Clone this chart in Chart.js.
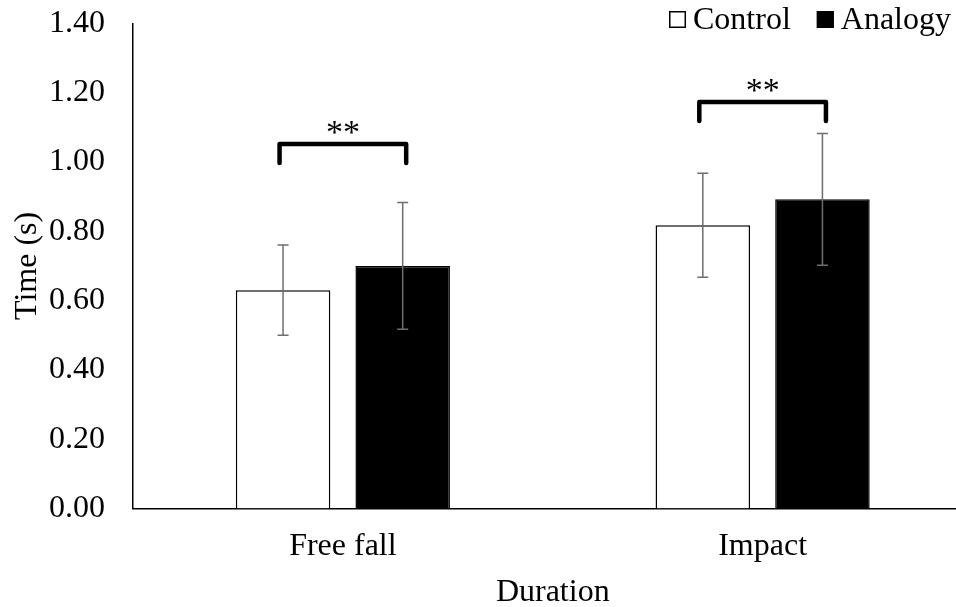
<!DOCTYPE html>
<html>
<head>
<meta charset="utf-8">
<script src="https://cdn.jsdelivr.net/npm/chart.js@4.4.1/dist/chart.umd.min.js"></script>
<style>
  html, body { margin: 0; padding: 0; background: #fff; overflow: hidden; }
  #wrap { width: 974px; height: 607px; }
</style>
</head>
<body>
<div id="wrap"><canvas id="chart"></canvas></div>
<script>
const categories = ['Free fall', 'Impact']
const seriesNames = ['Control', 'Analogy']
const controlMeans = [0.630, 0.817]
const analogyMeans = [0.700, 0.892]
const controlErrors = [0.130, 0.150]
const analogyErrors = [0.183, 0.190]
const yTicks = [0, 0.2, 0.4, 0.6, 0.8, 1.0, 1.2, 1.4]
const bracketTops = [1.052, 1.173]
const bracketDrops = [0.055, 0.055]
const bracketLabels = ['**', '**']

const serif = 'Liberation Serif'

// error bars drawn on top of each bar
const errorBars = {
  id: 'errorBars',
  afterDatasetsDraw(chart) {
    const ctx = chart.ctx
    const y = chart.scales.y
    ctx.save()
    ctx.strokeStyle = '#6e6e6e'
    ctx.lineWidth = 1.5
    chart.data.datasets.forEach((ds, i) => {
      chart.getDatasetMeta(i).data.forEach((bar, j) => {
        const top = y.getPixelForValue(ds.data[j] + ds.errors[j])
        const bot = y.getPixelForValue(ds.data[j] - ds.errors[j])
        ctx.beginPath()
        ctx.moveTo(bar.x, top); ctx.lineTo(bar.x, bot)
        ctx.moveTo(bar.x - 5.5, top); ctx.lineTo(bar.x + 5.5, top)
        ctx.moveTo(bar.x - 5.5, bot); ctx.lineTo(bar.x + 5.5, bot)
        ctx.stroke()
      })
    })
    ctx.restore()
  }
}

// significance brackets
const brackets = {
  id: 'brackets',
  afterDatasetsDraw(chart) {
    const ctx = chart.ctx
    const y = chart.scales.y
    const a = chart.getDatasetMeta(0).data
    const b = chart.getDatasetMeta(1).data
    ctx.save()
    bracketTops.forEach((t, j) => {
      const x1 = a[j].x - 3.5
      const x2 = b[j].x + 3.5
      const yt = y.getPixelForValue(t)
      const yl = y.getPixelForValue(t - bracketDrops[j])
      ctx.strokeStyle = '#000'
      ctx.lineWidth = 4.5
      ctx.lineCap = 'round'
      ctx.lineJoin = 'round'
      ctx.beginPath()
      ctx.moveTo(x1, yl); ctx.lineTo(x1, yt); ctx.lineTo(x2, yt); ctx.lineTo(x2, yl)
      ctx.stroke()
      ctx.fillStyle = '#000'
      ctx.font = '34px "' + serif + '"'
      ctx.textAlign = 'center'
      ctx.textBaseline = 'alphabetic'
      ctx.fillText(bracketLabels[j], (x1 + x2) / 2, yt - 1)
    })
    ctx.restore()
  }
}

// legend in the top right corner
const legendBoxes = {
  id: 'legendBoxes',
  afterDraw(chart) {
    const ctx = chart.ctx
    ctx.save()
    ctx.font = '32px "' + serif + '"'
    ctx.textBaseline = 'alphabetic'
    const box = 17, gapText = 7, gapItem = 26, right = 951
    const items = chart.data.datasets.map(ds => ({
      label: ds.label, fill: ds.backgroundColor, w: ctx.measureText(ds.label).width
    }))
    const total = items.reduce((s, it) => s + box + gapText + it.w, 0) + gapItem * (items.length - 1)
    let x = right - total
    items.forEach(it => {
      ctx.fillStyle = it.fill
      ctx.fillRect(x, 11, box, box)
      ctx.strokeStyle = '#000'
      ctx.lineWidth = 1.5
      ctx.strokeRect(x + 0.75, 11.75, box - 1.5, box - 1.5)
      ctx.fillStyle = '#000'
      ctx.fillText(it.label, x + box + gapText, 29)
      x += box + gapText + it.w + gapItem
    })
    ctx.restore()
  }
}

new Chart(document.getElementById('chart'), {
  type: 'bar',
  data: {
    labels: categories,
    datasets: [
      {
        label: seriesNames[0],
        data: controlMeans,
        errors: controlErrors,
        backgroundColor: '#ffffff',
        borderColor: '#000000',
        borderWidth: 1.5,
        categoryPercentage: 0.57,
        barPercentage: 0.79
      },
      {
        label: seriesNames[1],
        data: analogyMeans,
        errors: analogyErrors,
        backgroundColor: '#000000',
        borderColor: '#000000',
        borderWidth: 1.5,
        categoryPercentage: 0.57,
        barPercentage: 0.79
      }
    ]
  },
  options: {
    responsive: true,
    maintainAspectRatio: false,
    animation: false,
    layout: { padding: { top: 23.3, right: 1.5, left: 0, bottom: 0 } },
    plugins: {
      legend: { display: false },
      tooltip: { enabled: false }
    },
    scales: {
      x: {
        grid: { display: false },
        border: { display: true, color: '#000', width: 1.5 },
        ticks: { color: '#000', padding: 11, font: { family: serif, size: 32 } },
        title: {
          display: true, text: 'Duration', color: '#000',
          font: { family: serif, size: 32, lineHeight: 0.9 }, padding: { top: 0, bottom: 0 }
        },
        afterFit(scale) { scale.height = 98.5 }
      },
      y: {
        min: 0,
        max: 1.4,
        grid: { display: false },
        border: { display: true, color: '#000', width: 1.5 },
        afterBuildTicks(scale) { scale.ticks = yTicks.map(v => ({ value: v })) },
        ticks: {
          color: '#000', padding: 20, font: { family: serif, size: 32, lineHeight: 0.1 },
          callback: v => v.toFixed(2)
        },
        title: {
          display: true, text: 'Time (s)', color: '#000',
          font: { family: serif, size: 32 }, padding: { top: 8, bottom: 0 }
        },
        afterFit(scale) { scale.width = 133 }
      }
    }
  },
  plugins: [errorBars, brackets, legendBoxes]
})
</script>
</body>
</html>
